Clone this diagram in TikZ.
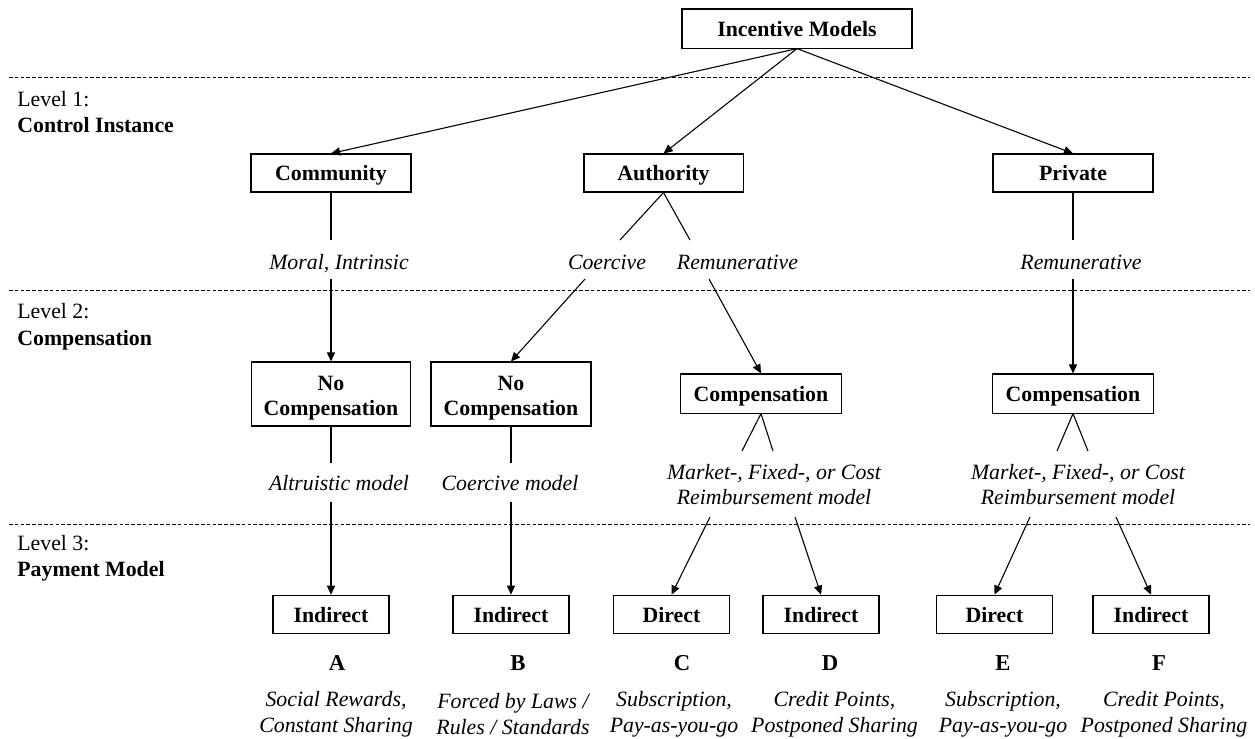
\documentclass[tikz,border=0pt]{standalone}
\usepackage{fontspec}
\setmainfont{Liberation Serif}
\usetikzlibrary{arrows.meta}
\begin{document}
\begin{tikzpicture}[x=0.55pt,y=-0.55pt,
  box/.style={draw, line width=0.6pt, font=\fontsize{12}{13.75}\selectfont\bfseries, align=center, inner sep=0pt},
  lab/.style={font=\fontsize{12}{14.2}\selectfont\itshape, align=center, inner sep=0pt},
  oneline/.style={text height=9.5pt, text depth=0.8pt},
  lvl/.style={font=\fontsize{12}{14.6}\selectfont, align=left, anchor=west, inner sep=0pt},
  letter/.style={font=\fontsize{12.5}{14}\selectfont\bfseries, inner sep=0pt},
  conn/.style={line width=0.6pt},
  arr/.style={conn, -{Triangle[length=5pt,width=4.5pt]}},
  sepline/.style={line width=0.5pt, dash pattern=on 2pt off 1.2pt}]
\useasboundingbox (0,0) rectangle (1255,738);

% separators
\draw[sepline] (9,77) -- (1250,77);
\draw[sepline] (9,290) -- (1250,290);
\draw[sepline] (9,524) -- (1250,524);

% level labels
\node[lvl] (lv1) at (17,112) {Level 1:\\\textbf{Control Instance}};
\node[lvl] (lv2) at (17,326.5) {Level 2:\\\textbf{Compensation}};
\node[lvl] (lv3) at (17,558.5) {Level 3:\\\textbf{Payment Model}};

% boxes
\node[box, oneline, minimum width=126.5pt, minimum height=21.5pt] (im) at (797,28.5) {Incentive Models};
\node[box, oneline, minimum width=88pt, minimum height=20.9pt] (com) at (331,173) {Community};
\node[box, oneline, minimum width=87.5pt, minimum height=20.9pt] (aut) at (663.5,173) {Authority};
\node[box, oneline, minimum width=88pt, minimum height=20.9pt] (pri) at (1073,173) {Private};

\node[box, minimum width=87.5pt, minimum height=35.2pt] (nc1) at (331,394) {\rule{0pt}{12pt}No\\Compensation};
\node[box, minimum width=88pt, minimum height=35.2pt] (nc2) at (511,394) {\rule{0pt}{12pt}No\\Compensation};
\node[box, oneline, minimum width=89pt, minimum height=21.5pt] (cp1) at (761,393.5) {Compensation};
\node[box, oneline, minimum width=88.5pt, minimum height=21.5pt] (cp2) at (1073,393.5) {Compensation};

\node[box, oneline, minimum width=63.8pt, minimum height=21.2pt] (ba) at (331,614.5) {Indirect};
\node[box, oneline, minimum width=63.8pt, minimum height=21.2pt] (bb) at (511,614.5) {Indirect};
\node[box, oneline, minimum width=63.8pt, minimum height=21.2pt] (bc) at (671.5,614.5) {Direct};
\node[box, oneline, minimum width=63.8pt, minimum height=21.2pt] (bd) at (821,614.5) {Indirect};
\node[box, oneline, minimum width=63.8pt, minimum height=21.2pt] (be) at (994.5,614.5) {Direct};
\node[box, oneline, minimum width=63.8pt, minimum height=21.2pt] (bf) at (1151,614.5) {Indirect};

% italic labels
\node[lab, oneline] (l1) at (339,262) {Moral, Intrinsic};
\node[lab, oneline] (l2) at (607,262) {Coercive};
\node[lab, oneline] (l3) at (737.5,262) {Remunerative};
\node[lab, oneline] (l4) at (1081,262) {Remunerative};
\node[lab, oneline] (l5) at (339,483) {Altruistic model};
\node[lab, oneline] (l6) at (510,483) {Coercive model};
\node[lab] (l7) at (774,484.5) {Market-, Fixed-, or Cost\\Reimbursement model};
\node[lab] (l8) at (1078,484.5) {Market-, Fixed-, or Cost\\Reimbursement model};

% letters
\node[letter, oneline] (la) at (337,663) {A};
\node[letter, oneline] (lb) at (518,663) {B};
\node[letter, oneline] (lc) at (682,663) {C};
\node[letter, oneline] (ld) at (830,663) {D};
\node[letter, oneline] (le) at (1003,663) {E};
\node[letter, oneline] (lf) at (1159,663) {F};

% descriptions
\node[lab] (da) at (336,714) {Social Rewards,\\Constant Sharing};
\node[lab] (db) at (513,714) {Forced by Laws /\\Rules / Standards};
\node[lab] (dc) at (674,714) {Subscription,\\Pay-as-you-go};
\node[lab] (dd) at (834.5,714) {Credit Points,\\Postponed Sharing};
\node[lab] (de) at (1003,714) {Subscription,\\Pay-as-you-go};
\node[lab] (df) at (1164,714) {Credit Points,\\Postponed Sharing};

% coordinates for connector ends
\coordinate (c1) at (331,240);
\coordinate (c2) at (331,279);
\coordinate (a1) at (620,240);
\coordinate (a2) at (690,240);
\coordinate (a3) at (585,279);
\coordinate (a4) at (709,279);
\coordinate (p1) at (1073,240);
\coordinate (p2) at (1073,279);
\coordinate (n1) at (331,463);
\coordinate (n2) at (331,502);
\coordinate (n3) at (511,463);
\coordinate (n4) at (511,502);
\coordinate (m1) at (742,451);
\coordinate (m2) at (773,451);
\coordinate (m3) at (710,517);
\coordinate (m4) at (795,517);
\coordinate (q1) at (1057,451);
\coordinate (q2) at (1088,451);
\coordinate (q3) at (1030,517);
\coordinate (q4) at (1116,517);

% connectors
\draw[arr] (im.south) -- (com.north);
\draw[arr] (im.south) -- (aut.north);
\draw[arr] (im.south) -- (pri.north);

\draw[conn] (com.south) -- (c1);
\draw[arr] (c2) -- (nc1.north);
\draw[conn] (aut.south) -- (a1);
\draw[conn] (aut.south) -- (a2);
\draw[arr] (a3) -- (nc2.north);
\draw[arr] (a4) -- (cp1.north);
\draw[conn] (pri.south) -- (p1);
\draw[arr] (p2) -- (cp2.north);

\draw[conn] (nc1.south) -- (n1);
\draw[arr] (n2) -- (ba.north);
\draw[conn] (nc2.south) -- (n3);
\draw[arr] (n4) -- (bb.north);
\draw[conn] (cp1.south) -- (m1);
\draw[conn] (cp1.south) -- (m2);
\draw[arr] (m3) -- (bc.north);
\draw[arr] (m4) -- (bd.north);
\draw[conn] (cp2.south) -- (q1);
\draw[conn] (cp2.south) -- (q2);
\draw[arr] (q3) -- (be.north);
\draw[arr] (q4) -- (bf.north);
\end{tikzpicture}
\end{document}
